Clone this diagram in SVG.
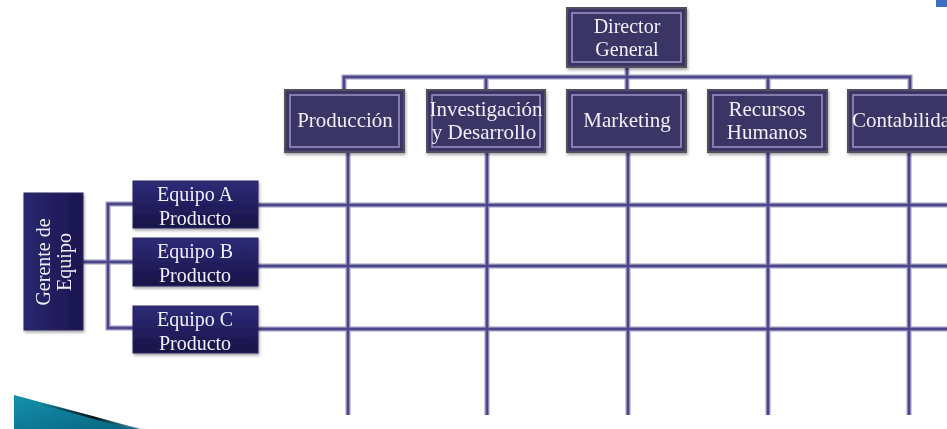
<svg xmlns="http://www.w3.org/2000/svg" width="947" height="429" viewBox="0 0 947 429">
  <defs>
    <style>
      .lbl { font-family: "Liberation Serif", "Times New Roman", serif; font-size: 20px; fill: #f0eff6; text-anchor: middle; }
      .dept { font-size: 21px; }
      .wire-o { stroke: #9d98c2; stroke-width: 5; fill: none; }
      .wire-i { stroke: #4b4589; stroke-width: 2.4; fill: none; }
      .unit { fill: #3b3566; stroke: #52505f; stroke-width: 2; }
      .bevel { fill: none; stroke: #9590bf; stroke-width: 1.6; }
      .team { fill: url(#teamFill); stroke: #2a2760; stroke-width: 1; }
    </style>
    <linearGradient id="teamFill" x1="0" y1="0" x2="0" y2="1">
      <stop offset="0" stop-color="#2e2c78"/>
      <stop offset="1" stop-color="#181247"/>
    </linearGradient>
    <linearGradient id="lead" x1="0" y1="0" x2="1" y2="0">
      <stop offset="0" stop-color="#2a286f"/>
      <stop offset="1" stop-color="#1b1550"/>
    </linearGradient>
    <linearGradient id="swoosh" x1="0" y1="0" x2="1" y2="1">
      <stop offset="0" stop-color="#1590ac"/>
      <stop offset="1" stop-color="#07647f"/>
    </linearGradient>
    <linearGradient id="edge" x1="0" y1="0" x2="1" y2="0">
      <stop offset="0" stop-color="#000" stop-opacity="0"/>
      <stop offset="0.5" stop-color="#000" stop-opacity="0.85"/>
      <stop offset="1" stop-color="#9fd3ea" stop-opacity="0"/>
    </linearGradient>
    <filter id="shadow" x="-10%" y="-10%" width="130%" height="140%">
      <feDropShadow dx="1" dy="2" stdDeviation="1.5" flood-color="#000" flood-opacity="0.35"/>
    </filter>
  </defs>

  <rect width="947" height="429" fill="#ffffff"/>

  <!-- corner accents -->
  <rect x="936" y="0" width="11" height="7" fill="#3b6fc2"/>
  <polygon points="14,395 140,429 14,429" fill="url(#swoosh)"/>
  <path d="M40,403 L128,427 L150,429" stroke="url(#edge)" stroke-width="2.5" fill="none"/>

  <!-- connectors -->
  <g id="connectors">
    <g class="wire-o">
      <path d="M627,67 V77"/>
      <path d="M344,90 V77 H910 V90"/>
      <path d="M486,77 V90 M627,77 V90 M768,77 V90"/>
      <path d="M348,152 V415 M487,152 V415 M628,152 V415 M768,152 V415 M909,152 V415"/>
      <path d="M258,205 H947 M258,266 H947 M258,329 H947"/>
      <path d="M133,204 H108 V328 H133 M83,262 H133"/>
    </g>
    <g class="wire-i">
      <path d="M627,67 V77"/>
      <path d="M344,90 V77 H910 V90"/>
      <path d="M486,77 V90 M627,77 V90 M768,77 V90"/>
      <path d="M348,152 V415 M487,152 V415 M628,152 V415 M768,152 V415 M909,152 V415"/>
      <path d="M258,205 H947 M258,266 H947 M258,329 H947"/>
      <path d="M133,204 H108 V328 H133 M83,262 H133"/>
    </g>
  </g>

  <!-- top of the hierarchy -->
  <g id="director" filter="url(#shadow)">
    <rect class="unit" x="567" y="8" width="119" height="59"/>
    <rect class="bevel" x="572" y="13" width="109" height="49"/>
    <text class="lbl" x="627" y="33">Director</text>
    <text class="lbl" x="627" y="56">General</text>
  </g>

  <!-- functional departments -->
  <g id="produccion" filter="url(#shadow)">
    <rect class="unit" x="285" y="90" width="119" height="62"/>
    <rect class="bevel" x="290" y="95" width="109" height="52"/>
    <text class="lbl dept" x="345" y="127">Producción</text>
  </g>
  <g id="investigacion" filter="url(#shadow)">
    <rect class="unit" x="427" y="90" width="118" height="62"/>
    <rect class="bevel" x="432" y="95" width="108" height="52"/>
    <text class="lbl dept" x="486" y="116">Investigación</text>
    <text class="lbl dept" x="484" y="139">y Desarrollo</text>
  </g>
  <g id="marketing" filter="url(#shadow)">
    <rect class="unit" x="567" y="90" width="119" height="62"/>
    <rect class="bevel" x="572" y="95" width="109" height="52"/>
    <text class="lbl dept" x="627" y="127">Marketing</text>
  </g>
  <g id="recursos" filter="url(#shadow)">
    <rect class="unit" x="708" y="90" width="119" height="62"/>
    <rect class="bevel" x="713" y="95" width="109" height="52"/>
    <text class="lbl dept" x="767" y="116">Recursos</text>
    <text class="lbl dept" x="767" y="139">Humanos</text>
  </g>
  <g id="contabilidad" filter="url(#shadow)">
    <rect class="unit" x="848" y="90" width="119" height="62"/>
    <rect class="bevel" x="853" y="95" width="109" height="52"/>
    <text class="lbl dept" x="852" y="127" style="text-anchor:start">Contabilidad</text>
  </g>

  <!-- product teams -->
  <g id="gerente" filter="url(#shadow)">
    <rect x="24" y="193" width="59" height="137" fill="url(#lead)" stroke="#2a2760" stroke-width="1"/>
    <text class="lbl" transform="translate(50,262) rotate(-90)">Gerente de</text>
    <text class="lbl" transform="translate(71,262) rotate(-90)">Equipo</text>
  </g>
  <g id="equipoA" filter="url(#shadow)">
    <rect class="team" x="133" y="181" width="125" height="47"/>
    <text class="lbl" x="195" y="201">Equipo A</text>
    <text class="lbl" x="195" y="225">Producto</text>
  </g>
  <g id="equipoB" filter="url(#shadow)">
    <rect class="team" x="133" y="238" width="125" height="48"/>
    <text class="lbl" x="195" y="258">Equipo B</text>
    <text class="lbl" x="195" y="282">Producto</text>
  </g>
  <g id="equipoC" filter="url(#shadow)">
    <rect class="team" x="133" y="306" width="125" height="47"/>
    <text class="lbl" x="195" y="326">Equipo C</text>
    <text class="lbl" x="195" y="350">Producto</text>
  </g>
</svg>
